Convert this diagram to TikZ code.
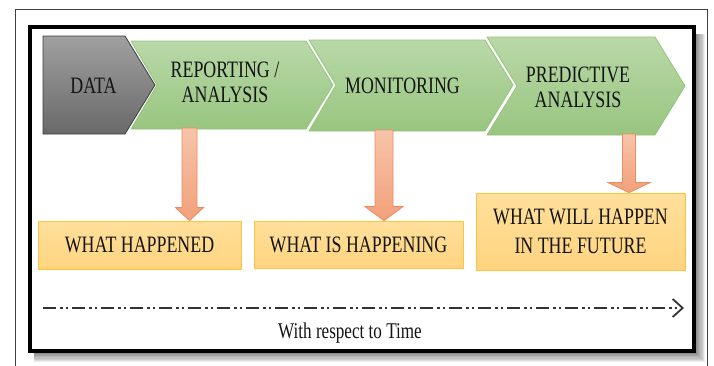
\documentclass[tikz,border=0pt]{standalone}
\usepackage{fontspec}
\setmainfont{Liberation Serif}[FakeStretch=0.76]
\usetikzlibrary{calc,arrows.meta}

\definecolor{chevtop}{RGB}{185,217,168}
\definecolor{chevbot}{RGB}{152,197,128}
\definecolor{chevline}{RGB}{150,196,125}
\definecolor{datatop}{RGB}{160,160,160}
\definecolor{databot}{RGB}{105,105,105}
\definecolor{dataline}{RGB}{60,60,60}
\definecolor{arrtop}{RGB}{247,196,170}
\definecolor{arrbot}{RGB}{242,160,122}
\definecolor{arrline}{RGB}{238,140,95}
\definecolor{boxtop}{RGB}{255,224,155}
\definecolor{boxbot}{RGB}{255,212,128}
\definecolor{boxline}{RGB}{255,196,60}
\definecolor{txt}{RGB}{20,20,20}

\begin{document}
\begin{tikzpicture}[x=1pt,y=-1pt,
  chevron/.style={top color=chevtop,bottom color=chevbot,draw=chevline,line width=0.8pt,line join=miter},
  datashape/.style={top color=datatop,bottom color=databot,draw=dataline,line width=0.8pt,line join=miter},
  label/.style={text=txt,font=\fontsize{23.5}{25}\selectfont,align=center,inner sep=0pt},
  outcome/.style={top color=boxtop,bottom color=boxbot,draw=boxline,line width=0.8pt,
    text=txt,font=\fontsize{23.5}{29}\selectfont,align=center,inner sep=0pt},
  blockarrow/.style n args={3}{top color=arrtop,bottom color=arrbot,draw=arrline,
    line width=0.8pt,line join=miter,
    to path={let \p1=(\tikztostart),\p2=(\tikztotarget) in
      (\x1-#1,\y1) -- (\x1+#1,\y1) -- (\x1+#1,\y2+#3) -- (\x1+#2,\y2+#3) -- (\x1,\y2)
      -- (\x1-#2,\y2+#3) -- (\x1-#1,\y2+#3) -- cycle}},
  timeline/.style={draw=black!80,line width=2.4pt,
    dash pattern=on 13pt off 4pt on 2.5pt off 3pt on 2.5pt off 4pt,
    -{Straight Barb[length=10pt,width=18pt,line width=1.8pt]}}
]
\useasboundingbox (0,0) rectangle (714,365);

% outer thin frame
\draw[black!75,line width=0.8pt] (15.5,366) -- (15.5,9.5) -- (707,9.5) -- (707,366);

% soft drop shadow of the inner frame
\foreach \k in {1,...,8}
  \fill[black,opacity=0.07] (34,34) rectangle (696+\k*1.1,353+\k*1.1);
\fill[white] (29.5,27) rectangle (694,351);
\draw[black,line width=4pt] (29.5,27) rectangle (694,351);

% process chevrons
\path[datashape] (43,36) -- (125,36) -- (155,85) -- (125,134) -- (43,134) -- cycle;
\path[chevron] (131,41) -- (306,41) -- (333,85) -- (306,129) -- (131,129) -- (157,85) -- cycle;
\path[chevron] (309,40) -- (485,40) -- (513,85) -- (485,131) -- (309,131) -- (336,85) -- cycle;
\path[chevron] (487,37) -- (655,37) -- (685,86) -- (655,135) -- (487,135) -- (517,86) -- cycle;

\node[label] (data) at (93.5,86) {DATA};
\node[label] (rep)  at (225,82) {REPORTING /\\ANALYSIS};
\node[label] (mon)  at (402.5,86) {MONITORING};
\node[label] (pred) at (578,87) {PREDICTIVE\\ANALYSIS};

% outcome boxes
\node[outcome,minimum width=203pt,minimum height=48pt] (what1) at (139.5,245) {WHAT HAPPENED};
\node[outcome,minimum width=209pt,minimum height=47pt] (what2) at (358.5,244.5) {WHAT IS HAPPENING};
\node[outcome,minimum width=209pt,minimum height=77pt] (what3) at (580.5,231.5) {WHAT WILL HAPPEN\\IN THE FUTURE};

% block arrows from each stage to its outcome
\coordinate (s1) at (189.5,128);
\coordinate (s2) at (384,130);
\coordinate (s3) at (629,134);
\path[blockarrow={7.5pt}{14pt}{13pt}] (s1) to (s1 |- what1.north);
\path[blockarrow={9pt}{19pt}{14pt}] (s2) to (s2 |- what2.north);
\path[blockarrow={6.5pt}{21pt}{10pt}] (s3) to (s3 |- what3.north);

% time axis
\coordinate (t0) at (43,308);
\coordinate (t1) at (684,308);
\draw[timeline] (t0) -- (t1);
\node[text=txt,font=\fontsize{22.5}{24}\selectfont,inner sep=0pt] (time) at (350,333) {With respect to Time};
\end{tikzpicture}
\end{document}
